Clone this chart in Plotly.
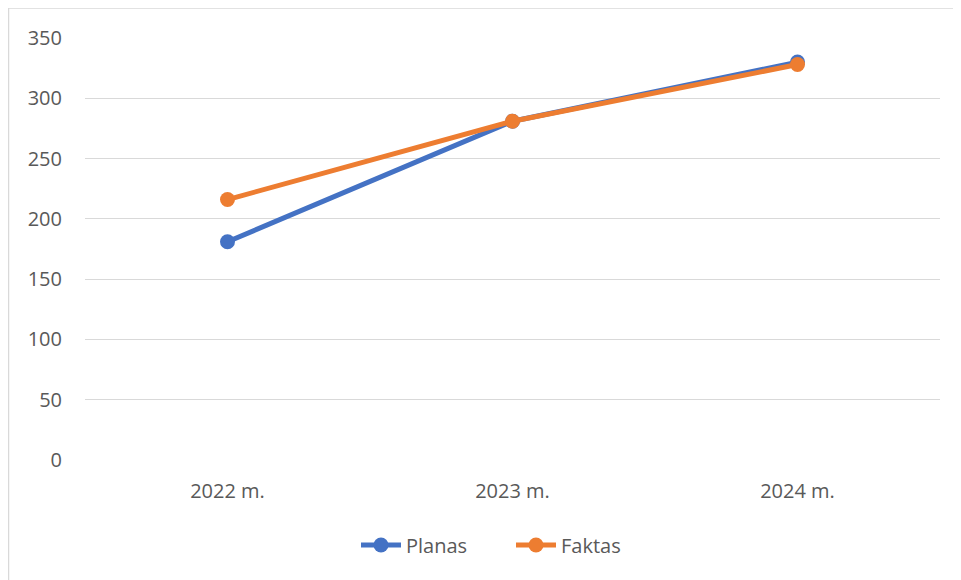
import plotly.graph_objects as go

categories = ["2022 m.", "2023 m.", "2024 m."]
planas = [181, 281, 330]
faktas = [216, 281, 328]
y_ticks = [0, 50, 100, 150, 200, 250, 300, 350]

W, H = 961, 580
L, R, T, B = 77, 29, 30, 128
pw, ph = W - L - R, H - T - B

fig = go.Figure()
fig.add_trace(go.Scatter(x=categories, y=planas, name="Planas", mode="lines+markers",
                         line=dict(color="#4472C4", width=5),
                         marker=dict(size=15, color="#4472C4")))
fig.add_trace(go.Scatter(x=categories, y=faktas, name="Faktas", mode="lines+markers",
                         line=dict(color="#ED7D31", width=5),
                         marker=dict(size=15, color="#ED7D31")))

def px_x(p):
    return (p - L) / pw

def px_y(p):
    return (H - B - p) / ph

fig.add_shape(type="rect", xref="paper", yref="paper",
              x0=px_x(0.5), x1=px_x(W + 5), y0=px_y(H + 5), y1=px_y(0),
              line=dict(color="#D9D9D9", width=1.5), fillcolor="rgba(0,0,0,0)", layer="below")

fig.update_layout(
    width=W, height=H,
    margin=dict(l=L, r=R, t=T, b=B),
    paper_bgcolor="white", plot_bgcolor="white",
    font=dict(family="Open Sans", size=20, color="#595959"),
    showlegend=True,
    legend=dict(orientation="h", x=px_x(348), xanchor="left", y=px_y(537), yanchor="middle",
                font=dict(size=20, color="#595959"), itemwidth=40,
                entrywidth=100, entrywidthmode="pixels"),
    xaxis=dict(range=[-0.5, 2.5], showgrid=False, showline=False, zeroline=False,
               ticks="", ticklabelstandoff=17, tickfont=dict(size=20)),
    yaxis=dict(range=[0, 350], tickvals=y_ticks, showgrid=True, gridcolor="#D9D9D9",
               gridwidth=1.3, zeroline=False, showline=False, ticks="",
               ticklabelstandoff=22, tickfont=dict(size=20)),
)

fig.write_html("out.html")
